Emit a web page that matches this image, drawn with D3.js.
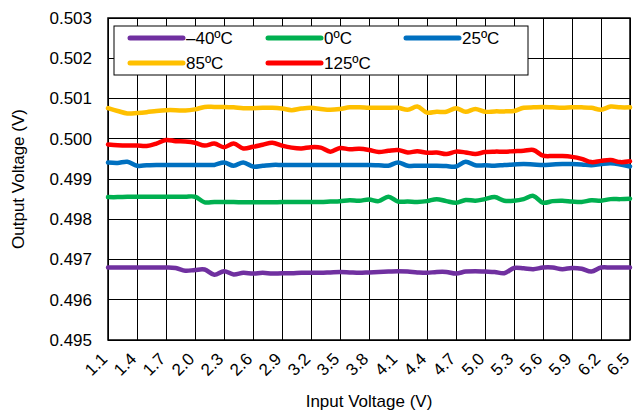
<!DOCTYPE html>
<html><head><meta charset="utf-8">
<script src="https://cdn.jsdelivr.net/npm/d3@7"></script>
<style>body{margin:0;background:#fff}svg text{font-family:"Liberation Sans",Arial,sans-serif;fill:#000}</style>
</head><body><svg id="c" width="633" height="412"></svg>
<script>
const inputVoltage = d3.range(55).map(i => +(1.1 + i*0.1).toFixed(1));
const xTickLabels = ["1.1","1.4","1.7","2.0","2.3","2.6","2.9","3.2","3.5","3.8","4.1","4.4","4.7","5.0","5.3","5.6","5.9","6.2","6.5"];
const yTickLabels = ["0.495","0.496","0.497","0.498","0.499","0.500","0.501","0.502","0.503"];
const seriesNames = ["–40ºC","0ºC","25ºC","85ºC","125ºC"];
const seriesColors = ["#7030A0","#00B050","#0070C0","#FFC000","#FF0000"];
const vMinus40 = [.4968,.4968,.4968,.4968,.4968,.4968,.4968,.49679,.49672,.49674,.49675,.49662,.49671,.49663,.49667,.49665,.49667,.49665,.49666,.49666,.49667,.49667,.49667,.49668,.49669,.49668,.49667,.49668,.49669,.4967,.49671,.4967,.49668,.49667,.49669,.49669,.49665,.4967,.49671,.4967,.49669,.49666,.49679,.49678,.49676,.4968,.4968,.49676,.49679,.49677,.4967,.4968,.4968,.4968,.4968];
const v0 = [.49855,.49855,.49856,.49856,.49856,.49856,.49856,.49856,.49856,.49856,.49842,.49843,.49843,.49843,.49842,.49842,.49842,.49842,.49843,.49843,.49843,.49843,.49843,.49844,.49845,.49847,.49846,.49849,.49845,.49856,.49844,.49844,.49843,.49845,.4985,.49845,.49841,.49848,.49846,.4985,.49855,.49846,.49846,.4985,.49858,.49841,.49845,.49846,.49844,.49843,.49847,.49846,.4985,.4985,.49851];
const v25 = [.49941,.4994,.49943,.49933,.49934,.49935,.49935,.49935,.49935,.49935,.49935,.49935,.49941,.49933,.49941,.49931,.49933,.49935,.49935,.49935,.49935,.49935,.49935,.49935,.49935,.49935,.49935,.49935,.49934,.49933,.49941,.49933,.49933,.49933,.49933,.49932,.49931,.49943,.49934,.49934,.49933,.49935,.49936,.49937,.49936,.49935,.49936,.49937,.49937,.49936,.49934,.49937,.49939,.49936,.49931];
const v85 = [.50076,.50069,.50063,.50064,.50066,.50069,.50071,.50071,.5007,.50073,.50079,.50079,.50079,.50078,.50076,.50076,.50077,.50077,.50075,.50071,.50075,.50077,.50074,.50072,.50074,.50078,.50078,.50077,.50077,.50077,.50077,.50072,.5008,.50065,.50067,.50067,.50076,.50067,.50074,.50067,.50068,.50068,.50069,.50077,.50078,.50079,.50078,.50077,.50078,.50078,.50077,.50072,.5008,.50078,.50078];
const v125 = [.49986,.49984,.49983,.49983,.49982,.49988,.49997,.49994,.49993,.4999,.49983,.49988,.49979,.49988,.49976,.4998,.49985,.4999,.49983,.49978,.49976,.49979,.49978,.49968,.49977,.49974,.49975,.49972,.49967,.4997,.49972,.49966,.49969,.49965,.49966,.49962,.49968,.49966,.49962,.49967,.49968,.49968,.49969,.4997,.49972,.49958,.49957,.49957,.49955,.4995,.49942,.49945,.49947,.49942,.49944];
const seriesValues = [vMinus40, v0, v25, v85, v125];

const svg = d3.select("#c");
const L=108, R=630, T=18, B=340;
const x = d3.scaleLinear().domain([1.1,6.5]).range([L,R]);
const y = d3.scaleLinear().domain([0.495,0.503]).range([B,T]);

const g = svg.append("g");
g.selectAll(".vg").data(xTickLabels).join("line")
  .attr("x1",d=>x(+d)).attr("x2",d=>x(+d)).attr("y1",T).attr("y2",B)
  .attr("stroke","#000").attr("stroke-width",1).attr("shape-rendering","crispEdges");
g.selectAll(".hg").data(yTickLabels).join("line")
  .attr("x1",L).attr("x2",R).attr("y1",d=>y(+d)).attr("y2",d=>y(+d))
  .attr("stroke","#000").attr("stroke-width",1).attr("shape-rendering","crispEdges");
g.append("rect").attr("x",L).attr("y",T).attr("width",R-L).attr("height",B-T)
  .attr("fill","none").attr("stroke","#000").attr("stroke-width",1.5);

const yAxis = d3.axisLeft(y).tickValues(yTickLabels.map(Number)).tickFormat(d3.format(".3f")).tickSize(0).tickPadding(16);
const ya = svg.append("g").attr("transform",`translate(${L},0)`).call(yAxis);
ya.select(".domain").remove();
ya.selectAll("text").style("font-size","17px").attr("fill","#000");

const xAxis = d3.axisBottom(x).tickValues(xTickLabels.map(Number)).tickFormat(d3.format(".1f")).tickSize(0);
const xa = svg.append("g").attr("transform",`translate(0,${B})`).call(xAxis);
xa.select(".domain").remove();
xa.selectAll("text").style("font-size","17px").attr("fill","#000")
  .attr("text-anchor","end").attr("dy",0).attr("y",0)
  .attr("transform","translate(0,20) rotate(-45)");

svg.append("text").attr("x",(L+R)/2).attr("y",407).attr("text-anchor","middle")
  .style("font-size","17px").text("Input Voltage (V)");
svg.append("text").attr("transform",`translate(24,${(T+B)/2}) rotate(-90)`).attr("text-anchor","middle")
  .style("font-size","17px").text("Output Voltage (V)");

const line = d3.line().x((d,i)=>x(inputVoltage[i])).y(d=>y(d)).curve(d3.curveCatmullRom.alpha(0.5));
svg.append("g").selectAll("path").data(seriesValues).join("path")
  .attr("d",line).attr("fill","none").attr("stroke",(d,i)=>seriesColors[i])
  .attr("stroke-width",4.5).attr("stroke-linejoin","round").attr("stroke-linecap","round");

const lg = svg.append("g");
lg.append("rect").attr("x",114).attr("y",26).attr("width",414).attr("height",49)
  .attr("fill","#fff").attr("stroke","#000").attr("stroke-width",1);
const colX=[130,268,406], rowY=[38,63];
seriesNames.forEach((n,i)=>{
  const cx=colX[i%3], cy=rowY[Math.floor(i/3)];
  lg.append("line").attr("x1",cx).attr("x2",cx+53).attr("y1",cy).attr("y2",cy)
    .attr("stroke",seriesColors[i]).attr("stroke-width",5).attr("stroke-linecap","round");
  lg.append("text").attr("x",cx+56).attr("y",cy+6).style("font-size","17px").text(n);
});
</script></body></html>
